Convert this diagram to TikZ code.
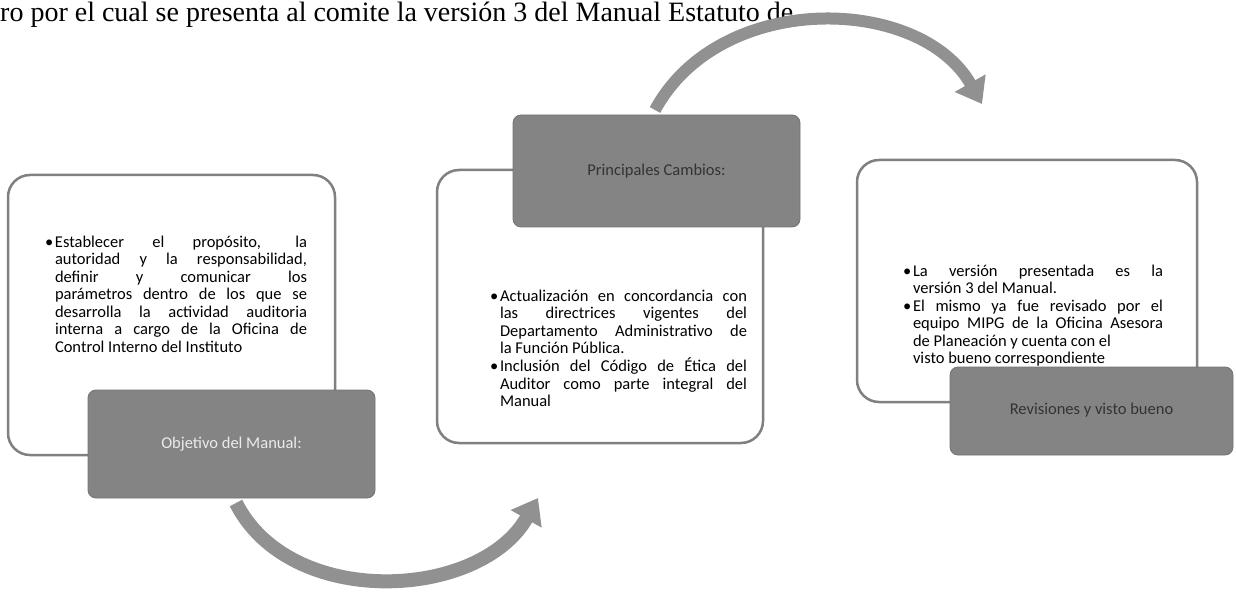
\documentclass[tikz,border=0pt]{standalone}
\usepackage{fontspec}
\setmainfont{Carlito}
\newfontfamily\serifhdr{Liberation Serif}
\usetikzlibrary{arrows.meta}
\definecolor{boxgray}{RGB}{132,132,132}
\definecolor{framegray}{RGB}{128,128,128}
\definecolor{arrowgray}{RGB}{145,145,145}
\newcommand\bul[1]{\par\noindent\hangindent=10pt\hangafter=1\makebox[10pt][l]{\textbullet}#1\par}
\tikzset{
  frame/.style={draw=framegray, line width=2.5pt, rounded corners=22pt, fill=white, inner sep=0pt, outer sep=0pt},
  labelbox/.style={fill=boxgray, draw=black!55, line width=0.8pt, rounded corners=8pt, inner sep=0pt, outer sep=0pt, font=\fontsize{16.5}{18}\selectfont},
  bodytext/.style={anchor=north west, inner sep=0pt, outer sep=0pt, text width=262pt, align=justify, font=\fontsize{16.5}{17.5}\selectfont},
  flow/.style={draw=arrowgray, line width=14pt, -{Triangle[length=24pt,width=34pt]}}
}
\begin{document}
\begin{tikzpicture}[x=1pt,y=-1pt]
\useasboundingbox (0,0) rectangle (1236,593);
% header line
\node[anchor=base west, inner sep=0pt, font=\serifhdr\fontsize{28}{28}\selectfont] (hdr) at (0,21.5) {ro por el cual se presenta al comite la versión 3 del Manual Estatuto de};
% frames
\node[frame, minimum width=327pt, minimum height=280pt] (objframe) at (171.5,315) {};
\node[frame, minimum width=326pt, minimum height=273pt] (camframe) at (600,306.5) {};
\node[frame, minimum width=340pt, minimum height=242pt] (revframe) at (1027,281) {};
% body texts
\node[bodytext] (objtext) at (45,230) {\bul{Establecer el propósito, la\linebreak autoridad y la responsabilidad,\linebreak definir y comunicar los\linebreak parámetros dentro de los que se\linebreak desarrolla la actividad auditoria\linebreak interna a cargo de la Oficina de\linebreak Control Interno del Instituto}};
\node[bodytext, text width=257pt] (camtext) at (490,284) {\bul{Actualización en concordancia con\linebreak las directrices vigentes del\linebreak Departamento Administrativo de\linebreak la Función Pública.}\bul{Inclusión del Código de Ética del\linebreak Auditor como parte integral del\linebreak Manual}};
\node[bodytext, text width=260pt] (revtext) at (903,259) {\bul{La versión presentada es la\linebreak versión 3 del Manual.}\bul{El mismo ya fue revisado por el\linebreak equipo MIPG de la Oficina Asesora\linebreak de Planeación y cuenta con el\newline visto bueno correspondiente}};
% label boxes
\node[labelbox, minimum width=287pt, minimum height=108pt, text=black!8] (objlab) at (231.5,444) {Objetivo del Manual:};
\node[labelbox, minimum width=287pt, minimum height=112pt, text=black!80] (camlab) at (656.5,171) {Principales Cambios:};
\node[labelbox, minimum width=283pt, minimum height=88pt, text=black!80] (revlab) at (1091.5,411) {\raisebox{5pt}{Revisiones y visto bueno}};
% circular arrows
\coordinate (a1s) at (236,503);
\coordinate (a1e) at (538,498);
\coordinate (a2s) at (655,110);
\coordinate (a2e) at (982,104);
\draw[flow] (a1s) .. controls (290,610) and (480,600) .. (a1e);
\draw[flow, line width=12pt] (a2s) .. controls (720,-10) and (920,-5) .. (a2e);
\end{tikzpicture}
\end{document}
